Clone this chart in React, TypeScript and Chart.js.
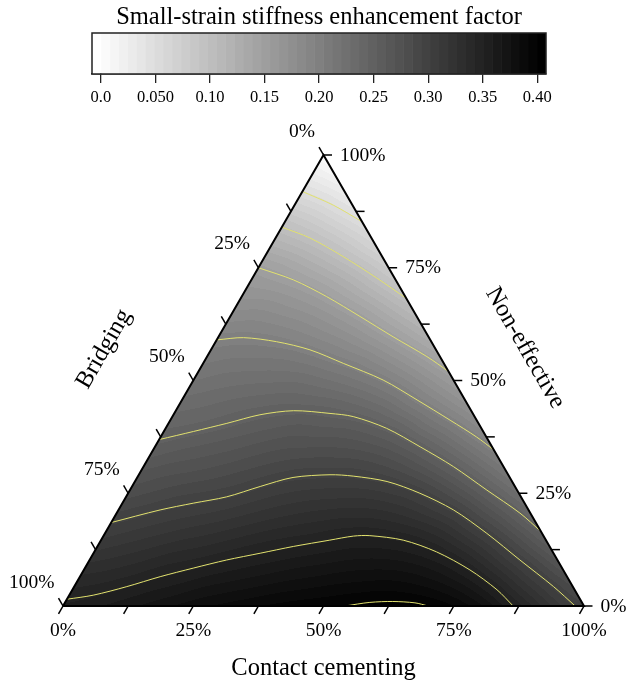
import React, { useEffect, useRef } from 'react';
import { Chart, registerables } from 'chart.js';
Chart.register(...registerables);

const H = Math.sqrt(3) / 2;
const FONT = "'Liberation Serif', 'Times New Roman', serif";

// ---- colour bar ----
const cbTitle = 'Small-strain stiffness enhancement factor';
const cbTickValues = [0, 0.05, 0.1, 0.15, 0.2, 0.25, 0.3, 0.35, 0.4];
const cbTickLabels = ['0.0', '0.050', '0.10', '0.15', '0.20', '0.25', '0.30', '0.35', '0.40'];
const colourMin = -0.00816;
const colourMax = 0.408;
const colourBands = 51;

// ---- ternary axes ----
const axisTickValues = [0, 12.5, 25, 37.5, 50, 62.5, 75, 87.5, 100];
const axisLabelValues = [0, 25, 50, 75, 100];
const axisLabels = ['0%', '25%', '50%', '75%', '100%'];
const titleBottom = 'Contact cementing';
const titleLeft = 'Bridging';
const titleRight = 'Non-effective';

// ---- field values: rows of constant Non-effective (0%,5%,...,100%),
//      entries along Contact cementing 0%,5%,... ----
const rowNE0 = [0.352, 0.356, 0.362, 0.368, 0.374, 0.380, 0.385, 0.389, 0.393, 0.396, 0.398, 0.401, 0.403, 0.403, 0.400, 0.392, 0.378, 0.357, 0.335, 0.313, 0.296];
const rowNE5 = [0.340, 0.343, 0.348, 0.354, 0.359, 0.365, 0.369, 0.373, 0.377, 0.380, 0.383, 0.385, 0.386, 0.383, 0.376, 0.364, 0.346, 0.324, 0.303, 0.283];
const rowNE10 = [0.325, 0.329, 0.334, 0.340, 0.344, 0.349, 0.354, 0.358, 0.362, 0.365, 0.368, 0.369, 0.367, 0.361, 0.350, 0.333, 0.312, 0.291, 0.269];
const rowNE15 = [0.310, 0.315, 0.320, 0.325, 0.329, 0.334, 0.339, 0.343, 0.346, 0.350, 0.352, 0.350, 0.345, 0.335, 0.319, 0.300, 0.278, 0.254];
const rowNE20 = [0.296, 0.301, 0.306, 0.310, 0.314, 0.319, 0.324, 0.328, 0.331, 0.333, 0.332, 0.327, 0.318, 0.305, 0.285, 0.264, 0.240];
const rowNE25 = [0.282, 0.287, 0.292, 0.295, 0.299, 0.305, 0.310, 0.313, 0.314, 0.314, 0.310, 0.302, 0.288, 0.270, 0.249, 0.227];
const rowNE30 = [0.269, 0.274, 0.277, 0.281, 0.286, 0.291, 0.295, 0.296, 0.296, 0.292, 0.284, 0.271, 0.254, 0.234, 0.213];
const rowNE35 = [0.255, 0.260, 0.264, 0.268, 0.273, 0.277, 0.278, 0.278, 0.275, 0.268, 0.255, 0.238, 0.219, 0.199];
const rowNE40 = [0.243, 0.246, 0.250, 0.255, 0.259, 0.262, 0.260, 0.258, 0.251, 0.239, 0.221, 0.204, 0.184];
const rowNE45 = [0.232, 0.235, 0.239, 0.242, 0.244, 0.243, 0.240, 0.233, 0.222, 0.205, 0.188, 0.170];
const rowNE50 = [0.220, 0.224, 0.226, 0.227, 0.227, 0.222, 0.215, 0.205, 0.191, 0.174, 0.156];
const rowNE55 = [0.209, 0.212, 0.212, 0.211, 0.206, 0.198, 0.189, 0.175, 0.159, 0.141];
const rowNE60 = [0.197, 0.198, 0.196, 0.191, 0.183, 0.173, 0.159, 0.143, 0.125];
const rowNE65 = [0.181, 0.182, 0.177, 0.170, 0.159, 0.145, 0.128, 0.110];
const rowNE70 = [0.166, 0.163, 0.156, 0.145, 0.130, 0.113, 0.095];
const rowNE75 = [0.150, 0.141, 0.129, 0.115, 0.099, 0.080];
const rowNE80 = [0.122, 0.112, 0.099, 0.083, 0.065];
const rowNE85 = [0.094, 0.082, 0.067, 0.051];
const rowNE90 = [0.062, 0.050, 0.034];
const rowNE95 = [0.031, 0.017];
const rowNE100 = [0.0];

// ---- contour lines: [Contact cementing %, Non-effective %] ----
const contour005 = [[0, 91.9], [7.4, 88.9], [14.8, 85.2]];
const contour010 = [[0, 84.0], [6.6, 81.6], [15.0, 77.5], [23.9, 72.7], [31.8, 68.2]];
const contour015 = [[0, 75.0], [8.1, 72.3], [16.3, 68.6], [24.9, 64.2], [33.5, 59.7], [42.2, 55.3], [48.0, 52.0]];
const contour020 = [[0, 59.0], [4.9, 59.5], [11.7, 58.6], [19.0, 56.8], [26.9, 53.8], [36.4, 50.1], [45.1, 45.7], [53.7, 41.2], [60.6, 37.5], [65.4, 34.6]];
const contour025 = [[0, 36.9], [5.7, 38.7], [11.2, 40.5], [16.6, 42.4], [22.6, 43.3], [29.9, 42.7], [34.7, 42.0], [42.4, 39.4], [50.9, 35.3], [59.5, 30.9], [68.5, 25.7], [77.4, 20.6], [83.5, 16.5]];
const contour030 = [[0, 18.5], [8.0, 21.3], [13.6, 22.8], [19.3, 24.2], [24.6, 26.5], [29.9, 28.5], [36.7, 29.1], [41.3, 28.8], [48.4, 27.6], [56.0, 25.0], [64.3, 21.3], [73.3, 16.1], [82.6, 10.2], [92.0, 4.3], [98.3, 0]];
const contour035 = [[0, 1.5], [4.6, 2.4], [10.1, 4.3], [15.4, 6.5], [20.8, 8.4], [26.3, 10.2], [32.0, 11.7], [37.6, 13.2], [43.9, 14.6], [48.0, 15.5], [51.1, 15.6], [58.0, 14.6], [65.7, 12.0], [74.1, 8.0], [81.5, 3.6], [86.4, 0]];
const contour040 = [[54.1, 0], [58.5, 0.8], [62.8, 1.0], [67.2, 0.7], [70.1, 0]];

const gridRows = [rowNE0, rowNE5, rowNE10, rowNE15, rowNE20, rowNE25, rowNE30, rowNE35, rowNE40, rowNE45,
  rowNE50, rowNE55, rowNE60, rowNE65, rowNE70, rowNE75, rowNE80, rowNE85, rowNE90, rowNE95, rowNE100];
const contours = [contour005, contour010, contour015, contour020, contour025, contour030, contour035, contour040];

const bandWidth = (colourMax - colourMin) / colourBands;
function grayForBand(k: number) {
  return Math.round(255 * (1 - k / (colourBands - 1)));
}
function bandOf(v: number) {
  let k = Math.floor((v - colourMin) / bandWidth + 1e-9);
  if (k < 0) k = 0;
  if (k > colourBands - 1) k = colourBands - 1;
  return k;
}

// padded copy of the grid (indices -1..23) so that a smooth interpolant can be evaluated near the edges
function buildPadded() {
  const E: number[][] = Array.from({ length: 26 }, () => new Array(26).fill(NaN));
  const get = (j: number, i: number) => E[j + 1][i + 1];
  const set = (j: number, i: number, v: number) => { E[j + 1][i + 1] = v; };
  for (let j = 0; j <= 23; j++) {
    for (let i = 0; i <= 23; i++) {
      if (j <= 20 && i <= 20 - j) set(j, i, gridRows[j][i]);
      else if (i >= 2) set(j, i, 2 * get(j, i - 1) - get(j, i - 2));
      else set(j, i, 2 * get(j - 1, i) - get(j - 2, i));
    }
  }
  for (let j = 0; j <= 23; j++) set(j, -1, 2 * get(j, 0) - get(j, 1));
  for (let i = -1; i <= 23; i++) set(-1, i, 2 * get(0, i) - get(1, i));
  return get;
}
const padded = buildPadded();

function cr(p0: number, p1: number, p2: number, p3: number, t: number) {
  return p1 + 0.5 * t * (p2 - p0 + t * (2 * p0 - 5 * p1 + 4 * p2 - p3 + t * (3 * (p1 - p2) + p3 - p0)));
}

function fieldValue(c: number, n: number): number {
  const u = c * 20;
  const w = n * 20;
  const i0 = Math.min(Math.max(Math.floor(u), 0), 19);
  const j0 = Math.min(Math.max(Math.floor(w), 0), 19);
  const fu = u - i0;
  const fw = w - j0;
  const r: number[] = [];
  for (let dj = -1; dj <= 2; dj++) {
    const j = j0 + dj;
    r.push(cr(padded(j, i0 - 1), padded(j, i0), padded(j, i0 + 1), padded(j, i0 + 2), fu));
  }
  return cr(r[0], r[1], r[2], r[3], fw);
}

const toXY = (c: number, n: number) => ({ x: c / 100 + n / 200, y: (n / 100) * H });

const fieldPlugin = {
  id: 'ternaryField',
  beforeDatasetsDraw(chart: any) {
    const { ctx, chartArea, scales } = chart;
    const xs = scales.x;
    const ys = scales.y;
    const left = Math.floor(chartArea.left);
    const top = Math.floor(chartArea.top);
    const w = Math.ceil(chartArea.right) - left;
    const h = Math.ceil(chartArea.bottom) - top;
    const off = document.createElement('canvas');
    off.width = w;
    off.height = h;
    const octx = off.getContext('2d')!;
    const img = octx.createImageData(w, h);
    const d = img.data;
    const xv: number[] = [];
    for (let px = 0; px < w; px++) xv.push(xs.getValueForPixel(left + px + 0.5));
    for (let py = 0; py < h; py++) {
      const n = ys.getValueForPixel(top + py + 0.5) / H;
      if (n < 0 || n > 1) continue;
      for (let px = 0; px < w; px++) {
        const c = xv[px] - n / 2;
        if (c < -0.001 || c + n > 1.001) continue;
        const v = fieldValue(Math.max(0, c), n);
        const gr = grayForBand(bandOf(v));
        const idx = (py * w + px) * 4;
        d[idx] = gr;
        d[idx + 1] = gr;
        d[idx + 2] = gr;
        d[idx + 3] = 255;
      }
    }
    octx.putImageData(img, 0, 0);
    ctx.drawImage(off, left, top);
  },
};

const axesPlugin = {
  id: 'ternaryAxes',
  afterDatasetsDraw(chart: any) {
    const { ctx, scales } = chart;
    const xs = scales.x;
    const ys = scales.y;
    const P = (c: number, n: number) => [xs.getPixelForValue(c + n / 2), ys.getPixelForValue(n * H)];
    const seg = (x1: number, y1: number, x2: number, y2: number) => {
      ctx.beginPath();
      ctx.moveTo(x1, y1);
      ctx.lineTo(x2, y2);
      ctx.stroke();
    };
    ctx.save();
    ctx.strokeStyle = '#000';
    ctx.fillStyle = '#000';
    ctx.lineWidth = 1.5;
    for (const t of axisTickValues) {
      const f = t / 100;
      let [px, py] = P(f, 0);
      seg(px, py, px - 4.5, py + 7.8);
      [px, py] = P(0, 1 - f);
      seg(px, py, px - 4.5, py - 7.8);
      [px, py] = P(1 - f, f);
      seg(px, py, px + 8.5, py);
    }
    ctx.font = `19.5px ${FONT}`;
    ctx.textBaseline = 'middle';
    axisLabelValues.forEach((t, i) => {
      const f = t / 100;
      let [px, py] = P(f, 0);
      ctx.textAlign = 'center';
      ctx.fillText(axisLabels[i], px, py + 25);
      [px, py] = P(0, 1 - f);
      ctx.textAlign = 'right';
      ctx.fillText(axisLabels[i], px - 8.5, py - 23.5);
      [px, py] = P(1 - f, f);
      ctx.textAlign = 'left';
      ctx.fillText(axisLabels[i], px + 16.5, py + 0.5);
    });
    ctx.font = `24.5px ${FONT}`;
    ctx.textAlign = 'center';
    ctx.textBaseline = 'alphabetic';
    const [bx] = P(0.5, 0);
    ctx.fillText(titleBottom, bx, 675);
    ctx.textBaseline = 'middle';
    ctx.save();
    ctx.translate(104, 349);
    ctx.rotate(-Math.PI / 3);
    ctx.fillText(titleLeft, 0, 0);
    ctx.restore();
    ctx.save();
    ctx.translate(525, 348);
    ctx.rotate(Math.PI / 3);
    ctx.fillText(titleRight, 0, 0);
    ctx.restore();
    ctx.restore();
  },
};

const boxPlugin = {
  id: 'cbBox',
  afterDatasetsDraw(chart: any) {
    const { ctx, chartArea } = chart;
    ctx.save();
    ctx.strokeStyle = '#222';
    ctx.lineWidth = 1.5;
    ctx.strokeRect(chartArea.left, chartArea.top, chartArea.right - chartArea.left, chartArea.bottom - chartArea.top);
    ctx.restore();
  },
};

export default function App() {
  const cbRef = useRef<HTMLCanvasElement>(null);
  const mainRef = useRef<HTMLCanvasElement>(null);

  useEffect(() => {
    const bands = Array.from({ length: colourBands }, (_, k) => {
      const g = grayForBand(k);
      return {
        data: [[colourMin + k * bandWidth, colourMin + (k + 1) * bandWidth]],
        backgroundColor: `rgb(${g},${g},${g})`,
        borderWidth: 0,
        barPercentage: 1,
        categoryPercentage: 1,
        grouped: false,
      };
    });
    const cb = new Chart(cbRef.current!, {
      type: 'bar',
      data: { labels: [''], datasets: bands as any },
      options: {
        indexAxis: 'y',
        responsive: false,
        animation: false,
        layout: { padding: { left: 92, right: 81, top: 3, bottom: 6 } },
        plugins: {
          legend: { display: false },
          tooltip: { enabled: false },
          title: {
            display: true,
            text: cbTitle,
            color: '#000',
            font: { family: FONT, size: 24.5, weight: 'normal' },
            padding: { top: 0, bottom: 0.6 },
          },
        },
        scales: {
          x: {
            type: 'linear',
            min: colourMin,
            max: colourMax,
            afterBuildTicks: (s: any) => {
              s.ticks = cbTickValues.map((v) => ({ value: v }));
            },
            afterFit: (s: any) => {
              s.height = 30;
            },
            grid: { drawOnChartArea: false, drawTicks: true, tickLength: 9, color: '#222', lineWidth: 1.3 },
            border: { display: true, color: '#222', width: 1.5 },
            ticks: {
              color: '#000',
              font: { family: FONT, size: 16.5 },
              padding: 5,
              autoSkip: false,
              maxRotation: 0,
              callback: (_v: any, i: number) => cbTickLabels[i],
            },
          },
          y: { display: false },
        },
      } as any,
      plugins: [boxPlugin],
    });

    const outline = [toXY(0, 0), toXY(100, 0), toXY(0, 100), toXY(0, 0)];
    const main = new Chart(mainRef.current!, {
      type: 'scatter',
      data: {
        datasets: [
          {
            data: outline,
            showLine: true,
            borderColor: '#000',
            borderWidth: 2,
            pointRadius: 0,
            tension: 0,
            clip: false,
          } as any,
          ...contours.map((line) => ({
            data: line.map(([c, n]) => toXY(c, n)),
            showLine: true,
            borderColor: 'rgb(226,226,110)',
            borderWidth: 1,
            pointRadius: 0,
            tension: 0.3,
          })),
        ],
      },
      options: {
        responsive: false,
        animation: false,
        layout: { padding: { left: 63, right: 43, top: 155, bottom: 74 } },
        plugins: { legend: { display: false }, tooltip: { enabled: false } },
        scales: {
          x: { type: 'linear', min: 0, max: 1, display: false },
          y: { type: 'linear', min: 0, max: H, display: false },
        },
      } as any,
      plugins: [fieldPlugin, axesPlugin],
    });

    return () => {
      cb.destroy();
      main.destroy();
    };
  }, []);

  return (
    <div style={{ position: 'absolute', left: 0, top: 0, width: 627, height: 680, background: '#fff', overflow: 'hidden' }}>
      <canvas ref={mainRef} width={627} height={680} style={{ position: 'absolute', left: 0, top: 0 }} />
      <canvas ref={cbRef} width={627} height={110} style={{ position: 'absolute', left: 0, top: 0 }} />
    </div>
  );
}
